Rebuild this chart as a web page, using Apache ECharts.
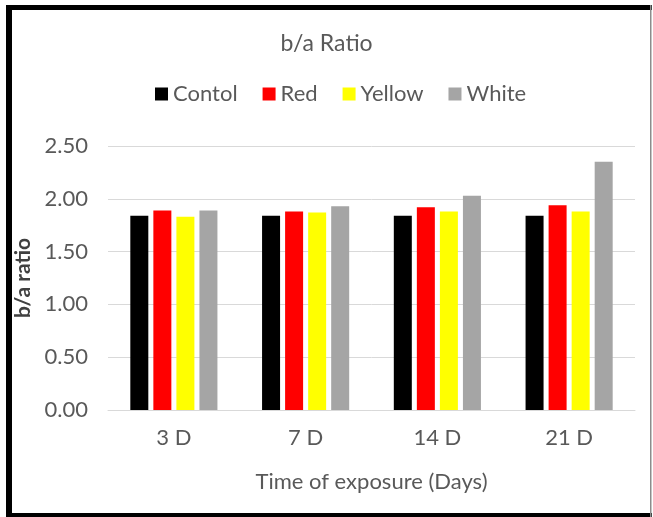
<!DOCTYPE html>
<html>
<head>
<meta charset="utf-8">
<style>
  html, body { margin: 0; padding: 0; background: #ffffff; }
  #chart { width: 653px; height: 517px; }
</style>
<script src="https://cdn.jsdelivr.net/npm/echarts@6/dist/echarts.min.js"></script>
</head>
<body>
<div id="chart"></div>
<script>
// b/a ratio by exposure time and light treatment
const categories = ['3 D', '7 D', '14 D', '21 D'];
const seriesNames = ['Contol', 'Red', 'Yellow', 'White'];
const contol = [1.84, 1.84, 1.84, 1.84];
const red = [1.89, 1.88, 1.92, 1.94];
const yellow = [1.83, 1.87, 1.88, 1.88];
const white = [1.89, 1.93, 2.03, 2.35];
const seriesColors = ['#000000', '#ff0000', '#ffff00', '#a5a5a5'];

const FONT = 'Lato, "Open Sans", sans-serif';
const seriesValues = [contol, red, yellow, white];

const chart = echarts.init(document.getElementById('chart'), null, { renderer: 'canvas' });

chart.setOption({
  animation: false,
  backgroundColor: '#ffffff',
  title: {
    text: 'b/a Ratio',
    left: 'center',
    top: 27,
    textStyle: { fontFamily: FONT, fontSize: 23, fontWeight: 'normal', color: '#595959' }
  },
  legend: {
    data: seriesNames,
    top: 78,
    left: 150,
    itemWidth: 13,
    itemHeight: 13,
    itemGap: 25,
    icon: 'rect',
    textStyle: { fontFamily: FONT, fontSize: 22, color: '#595959' }
  },
  grid: { left: 108, right: 18, top: 146, bottom: 107, containLabel: false },
  xAxis: {
    type: 'category',
    data: categories,
    name: 'Time of exposure (Days)',
    nameLocation: 'middle',
    nameGap: 61,
    nameTextStyle: { fontFamily: FONT, fontSize: 22, color: '#595959' },
    axisLine: { show: true, lineStyle: { color: '#d9d9d9', width: 1 } },
    axisTick: { show: false },
    axisLabel: { fontFamily: FONT, fontSize: 22, color: '#595959', margin: 17 }
  },
  yAxis: {
    type: 'value',
    min: 0,
    max: 2.5,
    interval: 0.5,
    name: 'b/a ratio',
    nameLocation: 'middle',
    nameGap: 67,
    nameRotate: 90,
    nameTextStyle: { fontFamily: FONT, fontSize: 21, fontWeight: 'bold', color: '#404040' },
    axisLine: { show: false },
    axisTick: { show: false },
    splitLine: { lineStyle: { color: '#d9d9d9', width: 1 } },
    axisLabel: {
      fontFamily: FONT, fontSize: 22, color: '#595959', margin: 20,
      formatter: v => v.toFixed(2)
    }
  },
  series: seriesNames.map((name, i) => ({
    name,
    type: 'bar',
    data: seriesValues[i],
    barWidth: 18,
    barGap: '28%',
    itemStyle: { color: seriesColors[i] }
  })),
  graphic: [
    // frame around the chart
    { type: 'rect', shape: { x: 6, y: 5, width: 6, height: 512 }, style: { fill: '#000000' }, silent: true },
    { type: 'rect', shape: { x: 6, y: 5, width: 646, height: 5 }, style: { fill: '#000000' }, silent: true },
    { type: 'rect', shape: { x: 6, y: 513, width: 646, height: 4 }, style: { fill: '#000000' }, silent: true },
    { type: 'rect', shape: { x: 650, y: 5, width: 1.5, height: 512 }, style: { fill: '#8c8c8c' }, silent: true }
  ]
});
</script>
</body>
</html>
